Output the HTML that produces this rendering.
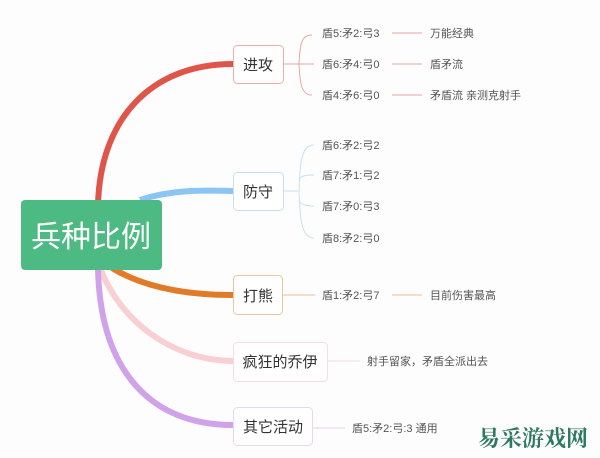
<!DOCTYPE html>
<html><head><meta charset="utf-8"><style>
body{margin:0;width:600px;height:458px;background:#fdfdfd;overflow:hidden;font-family:"Liberation Sans","Noto Sans CJK SC",sans-serif;}
svg{position:absolute;left:0;top:0}
.t{font-size:11px;fill:#555}
.n{font-size:15px;fill:#333}
</style></head><body>
<svg width="600" height="458" viewBox="0 0 600 458">
<!-- main branches -->
<path d="M98 205 C100 120 150 64 233 64" stroke="#e0554a" stroke-width="6" fill="none"/>
<path d="M140 200 C170 190 200 190 233 191" stroke="#8cc4f4" stroke-width="6" fill="none"/>
<path d="M112 268 C140 285 180 295 233 295" stroke="#e07b2a" stroke-width="6" fill="none"/>
<path d="M100 268 C120 320 170 360 233 361" stroke="#f8d0d4" stroke-width="6" fill="none"/>
<path d="M98 268 C100 370 150 425 233 425" stroke="#d0a2ea" stroke-width="6" fill="none"/>
<!-- root -->
<rect x="21" y="200" width="141" height="70" rx="4" fill="#4dba84"/>
<text x="91" y="247" font-size="30" fill="#fff" text-anchor="middle">兵种比例</text>
<!-- nodes -->
<rect x="233.5" y="45.5" width="50" height="38" rx="4" fill="#fff" stroke="#e8b0a8"/>
<text x="258" y="70" class="n" text-anchor="middle">进攻</text>
<rect x="233.5" y="172.5" width="50" height="38" rx="4" fill="#fff" stroke="#c8dff2"/>
<text x="258" y="197" class="n" text-anchor="middle">防守</text>
<rect x="233.5" y="275.5" width="49" height="39" rx="4" fill="#fff" stroke="#ecc79c"/>
<text x="258" y="301" class="n" text-anchor="middle">打熊</text>
<rect x="233.5" y="342.5" width="94" height="39" rx="4" fill="#fff" stroke="#f5dde0"/>
<text x="280" y="367" class="n" text-anchor="middle">疯狂的乔伊</text>
<rect x="233.5" y="407.5" width="79" height="38" rx="4" fill="#fff" stroke="#e6d8ee"/>
<text x="273" y="432" class="n" text-anchor="middle">其它活动</text>
<!-- 进攻 leaves -->
<g stroke="#e8a8a0" fill="none" stroke-width="1">
<path d="M284 64 H298 M312 35 C302 35 300 42 299 64 C300 86 302 95 312 95"/>
<path d="M298 64 H314"/>
<path d="M392 33 H422 M392 64 H422 M392 95 H422"/>
</g>
<text x="322" y="37" class="t">盾5:矛2:弓3</text>
<text x="322" y="68" class="t">盾6:矛4:弓0</text>
<text x="322" y="99" class="t">盾4:矛6:弓0</text>
<text x="430" y="37" class="t">万能经典</text>
<text x="430" y="68" class="t">盾矛流</text>
<text x="430" y="99" class="t">矛盾流 亲测克射手</text>
<!-- 防守 leaves -->
<g stroke="#c8e0f0" fill="none">
<path d="M284 191 H298 M314 145 C302 145 300 160 299 191 C300 222 302 238 314 238"/>
<path d="M299 180 C300 176 305 175 314 175 M299 200 C300 204 305 206 314 206"/>
</g>
<text x="322" y="149" class="t">盾6:矛2:弓2</text>
<text x="322" y="179" class="t">盾7:矛1:弓2</text>
<text x="322" y="210" class="t">盾7:矛0:弓3</text>
<text x="322" y="242" class="t">盾8:矛2:弓0</text>
<!-- 打熊 -->
<path d="M283 295 H315 M392 295 H422" stroke="#ecbf94"/>
<text x="322" y="299" class="t">盾1:矛2:弓7</text>
<text x="430" y="299" class="t">目前伤害最高</text>
<path d="M328 361 H360" stroke="#f2dde0"/>
<text x="367" y="365" class="t">射手留家，矛盾全派出去</text>
<path d="M313 428 H345" stroke="#e2d4ea"/>
<text x="352" y="432" class="t">盾5:矛2:弓:3 通用</text>
<text x="478" y="446" font-size="22" font-weight="bold" fill="#2d7a5e" font-family="'Noto Serif CJK SC',serif">易采游戏网</text>
</svg>
</body></html>
